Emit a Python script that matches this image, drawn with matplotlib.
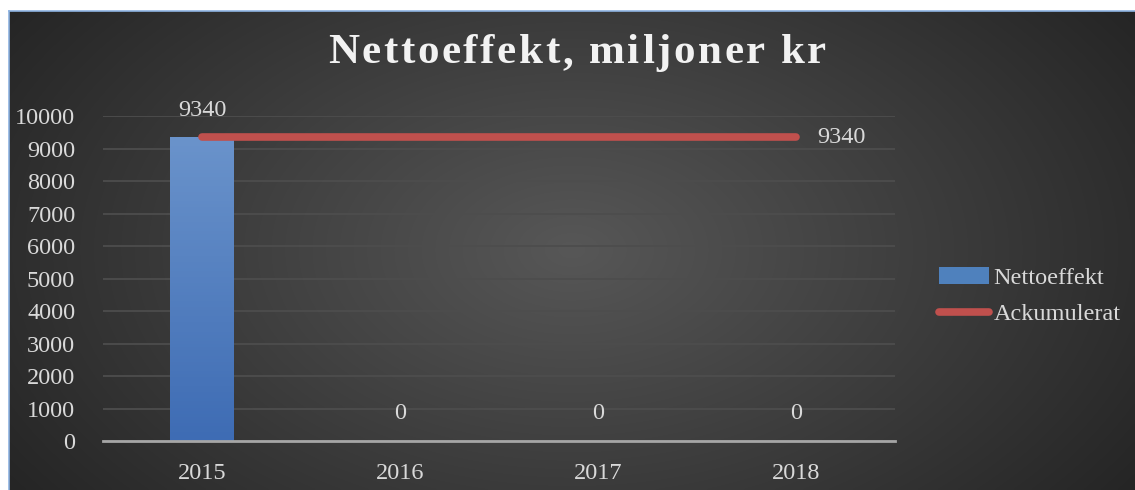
import matplotlib

matplotlib.use("Agg")

import matplotlib.pyplot as plt
import numpy as np
from matplotlib.lines import Line2D
from matplotlib.patches import Patch

# --- data ---------------------------------------------------------------------
years = ["2015", "2016", "2017", "2018"]
nettoeffekt = [9340, 0, 0, 0]
ackumulerat = [9340, 9340, 9340, 9340]
y_ticks = [0, 1000, 2000, 3000, 4000, 5000, 6000, 7000, 8000, 9000, 10000]

TITLE = "Nettoeffekt, miljoner kr"
TEXT = "#D9D9D9"
BLUE = "#4F81BD"
RED = "#C0504D"
FONT = "Liberation Serif"

W, H = 1135, 490
fig = plt.figure(figsize=(W / 100, H / 100), dpi=100, facecolor="white")

# dark radial-gradient chart area
bx0, by0 = 9, 11
bg = fig.add_axes([bx0 / W, 0, 1 - bx0 / W, 1 - by0 / H])
gx, gy = np.meshgrid(np.linspace(0, 1, 400), np.linspace(0, 1, 200))
r = np.sqrt(((gx - 0.5) / 0.62) ** 2 + ((gy - 0.5) / 0.9) ** 2)
shade = np.clip(0x57 - (0x57 - 0x24) * r, 0x22, 0x57) / 255.0
img = np.dstack([shade, shade, shade])
bg.imshow(img, aspect="auto", extent=[0, 1, 0, 1], interpolation="bilinear")
bg.set_axis_off()

# thin blue frame on the top / left edges
fig.add_artist(Line2D([bx0 / W, 1], [1 - by0 / H] * 2, color="#8DB3E2", lw=1.2))
fig.add_artist(Line2D([bx0 / W] * 2, [0, 1 - by0 / H], color="#8DB3E2", lw=1.2))

# --- plot area ----------------------------------------------------------------
left, right, top, bottom = 103, 895, 116, 441
ax = fig.add_axes([left / W, (H - bottom) / H, (right - left) / W, (bottom - top) / H])
ax.set_facecolor("none")
x = np.arange(len(years))

bars = ax.bar(x, nettoeffekt, width=0.32, color=BLUE, zorder=2)
# vertical gradient inside the bar
grad = np.linspace(0, 1, 100).reshape(-1, 1)
top_c = np.array([0x6A, 0x93, 0xCB]) / 255
bot_c = np.array([0x3E, 0x6C, 0xB4]) / 255
gimg = grad[..., None] * top_c + (1 - grad[..., None]) * bot_c
for b in bars:
    if b.get_height() > 0:
        im = ax.imshow(gimg, aspect="auto", origin="lower", zorder=2.1,
                       extent=[b.get_x(), b.get_x() + b.get_width(), 0, b.get_height()])
        im.set_clip_path(b)

ax.plot(x, ackumulerat, color=RED, lw=5.5, solid_capstyle="round", zorder=3)

ax.set_xlim(-0.5, len(years) - 0.5)
ax.set_ylim(0, 10000)
ax.set_yticks(y_ticks)
ax.set_xticks(x, years)
ax.grid(axis="y", color="#4D4D4D", lw=1.3, zorder=0)
ax.set_axisbelow(True)
for s in ["top", "right", "left"]:
    ax.spines[s].set_visible(False)
ax.spines["bottom"].set_color("#A6A6A6")
ax.spines["bottom"].set_linewidth(2)
ax.spines["bottom"].set_zorder(4)
ax.tick_params(length=0, colors=TEXT, labelsize=17.5)
ax.tick_params(axis="y", pad=20)
ax.tick_params(axis="x", pad=16)
for lab in ax.get_xticklabels() + ax.get_yticklabels():
    lab.set_fontfamily(FONT)

# data labels
for xi, v in zip(x, nettoeffekt):
    ax.annotate(f"{v}", (xi, v), xytext=(0, 12), textcoords="offset points",
                ha="center", va="bottom", color=TEXT, fontsize=17.5,
                family=FONT, clip_on=False)
ax.annotate(f"{ackumulerat[-1]}", (x[-1], ackumulerat[-1]), xytext=(15, 0),
            textcoords="offset points", ha="left", va="center", color=TEXT,
            fontsize=17.5, family=FONT)

# title with wide letter spacing, drawn char by char
renderer = fig.canvas.get_renderer()
title_kw = dict(color="#F2F2F2", fontsize=31, fontweight="bold", family=FONT,
                va="baseline", ha="left")
tracking = 2.6  # extra px between letters
widths = []
for ch in TITLE:
    if ch == " ":
        probe = fig.text(0, 0, "a a", **title_kw)
        w_aa = probe.get_window_extent(renderer).width
        probe.remove()
        probe = fig.text(0, 0, "aa", **title_kw)
        w = w_aa - probe.get_window_extent(renderer).width
        probe.remove()
    else:
        probe = fig.text(0, 0, ch, **title_kw)
        w = probe.get_window_extent(renderer).width
        probe.remove()
    widths.append(w + tracking)
total = sum(widths) - tracking
xpos = 577 - total / 2
for ch, w in zip(TITLE, widths):
    if ch != " ":
        fig.text(xpos / W, 1 - 63 / H, ch, **title_kw)
    xpos += w

handles = [Patch(facecolor=BLUE, edgecolor="none"),
           Line2D([], [], color=RED, lw=5.5, solid_capstyle="round")]
fig.legend(handles, ["Nettoeffekt", "Ackumulerat"], loc="center left",
           bbox_to_anchor=(939 / W, 1 - 296 / H), frameon=False, borderpad=0,
           borderaxespad=0, labelcolor=TEXT, prop={"family": FONT, "size": 17.5},
           handlelength=2.05, handletextpad=0.2, labelspacing=0.6)

fig.savefig("out.png", dpi=100, facecolor="white")
